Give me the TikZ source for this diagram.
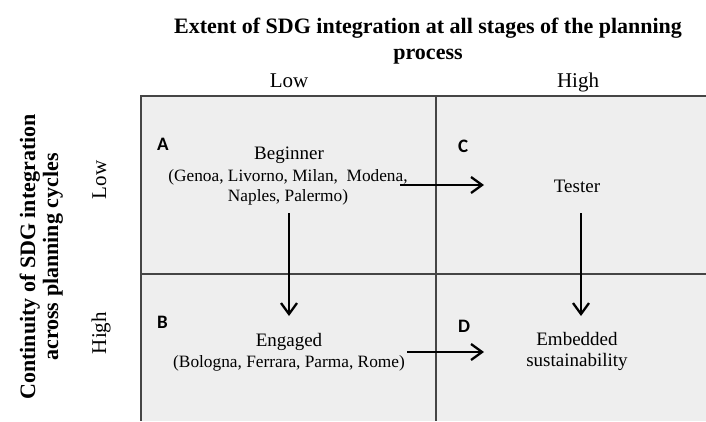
\documentclass[tikz,border=0pt]{standalone}
\usepackage{fontspec}
\setmainfont{Liberation Serif}
\newfontfamily\letterfont{Carlito}
\usetikzlibrary{arrows.meta}
\definecolor{cellgray}{HTML}{EEEEEE}
\definecolor{gridgray}{HTML}{454545}
\begin{document}
\begin{tikzpicture}[x=1pt,y=-1pt,
  titletext/.style={font=\fontsize{22}{24}\selectfont\bfseries, inner sep=0},
  axistext/.style={font=\fontsize{21}{24}\selectfont, inner sep=0},
  nametext/.style={font=\fontsize{19}{21}\selectfont, inner sep=0, anchor=base},
  listtext/.style={font=\fontsize{17.3}{21}\selectfont, inner sep=0, anchor=base},
  lettertext/.style={font=\fontsize{19}{21}\selectfont\letterfont\bfseries, inner sep=0, anchor=base west},
  arr/.style={-{Straight Barb[length=11pt,width=16pt,line width=2.3pt]}, line width=2.3pt, black},
  gridline/.style={draw=gridgray, line width=1.6pt}]
\useasboundingbox (0,0) rectangle (706,421);
% quadrant grid
\fill[cellgray] (141,96) rectangle (706,421);
\draw[gridline] (706,96) -- (141,96) -- (141,421);
\draw[gridline] (436,96) -- (436,421);
\draw[gridline] (141,274) -- (706,274);
% titles
\node[titletext, anchor=base] (title1) at (428,33) {Extent of SDG integration at all stages of the planning};
\node[titletext, anchor=base] (title2) at (428,59) {process};
\node[axistext, anchor=base] (lowx) at (289,87) {Low};
\node[axistext, anchor=base] (highx) at (578,87) {High};
\node[titletext, anchor=base, rotate=90] (ytitle1) at (35,257) {Continuity of SDG integration};
\node[titletext, anchor=base, rotate=90] (ytitle2) at (58,257) {across planning cycles};
\node[axistext, anchor=base, rotate=90] (lowy) at (106,180) {Low};
\node[axistext, anchor=base, rotate=90] (highy) at (106,333) {High};
% letters
\node[lettertext] (la) at (157,150) {A};
\node[lettertext] (lc) at (458,152) {C};
\node[lettertext] (lb) at (157,328) {B};
\node[lettertext] (ld) at (458,332) {D};
% cell texts
\node[nametext] (beginner) at (289,159) {Beginner};
\node[listtext] (beginnerA) at (288,181) {(Genoa, Livorno, Milan,\ \ Modena,};
\node[listtext] (beginnerB) at (288,201) {Naples, Palermo)};
\node[nametext] (tester) at (577,192) {Tester};
\node[nametext] (engaged) at (289,346) {Engaged};
\node[listtext] (engagedA) at (289,367) {(Bologna, Ferrara, Parma, Rome)};
\node[nametext] (embedded) at (577,345) {Embedded};
\node[nametext] (embeddedB) at (577,366) {sustainability};
% connector end points
\coordinate (beginner-r) at (400,185);
\coordinate (tester-l) at (484,185);
\coordinate (beginner-d) at (289,213);
\coordinate (engaged-u) at (289,316);
\coordinate (tester-d) at (581,213);
\coordinate (embedded-u) at (581,316);
\coordinate (engaged-r) at (407,352);
\coordinate (embedded-l) at (484,352);
% arrows
\draw[arr] (beginner-r) -- (tester-l);
\draw[arr] (beginner-d) -- (engaged-u);
\draw[arr] (tester-d) -- (embedded-u);
\draw[arr] (engaged-r) -- (embedded-l);
\end{tikzpicture}
\end{document}
